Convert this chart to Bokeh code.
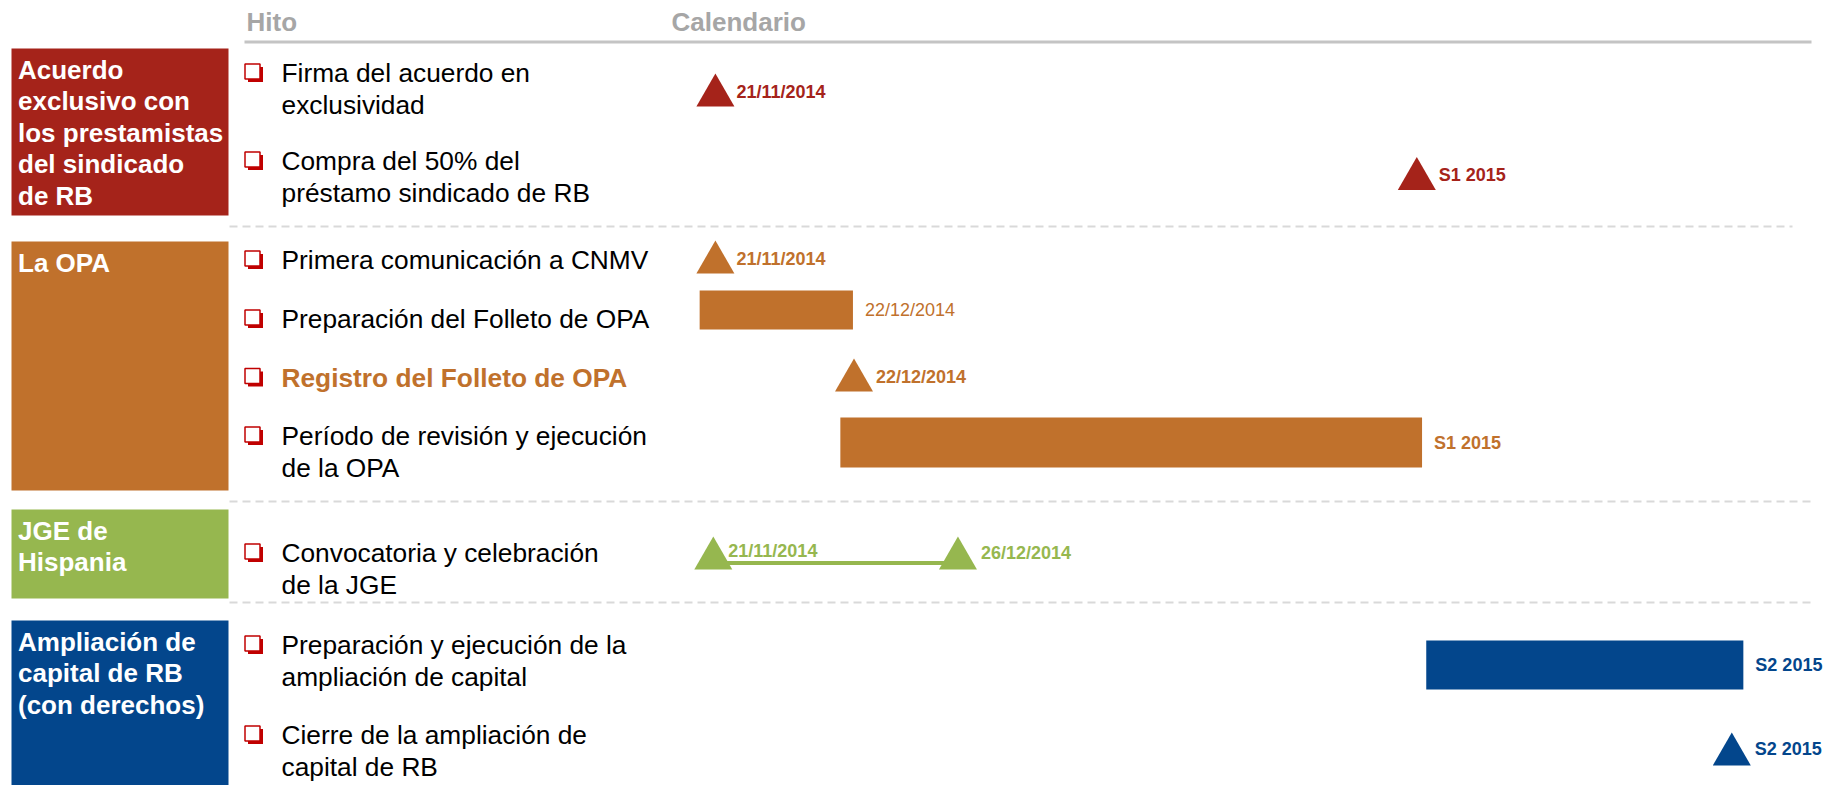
from bokeh.plotting import figure
from bokeh.models import Range1d, ColumnDataSource
from bokeh.embed import file_html
from bokeh.resources import INLINE
from bokeh.core.properties import value

# ---------------- DATA ----------------
header_labels = ["Hito", "Calendario"]

group_names = [
    "Acuerdo\nexclusivo con\nlos prestamistas\ndel sindicado\nde RB",
    "La OPA",
    "JGE de\nHispania",
    "Ampliación de\ncapital de RB\n(con derechos)",
]
group_colors = ["#A5231A", "#C0712C", "#96B74F", "#03468C"]

item_texts = [
    "Firma del acuerdo en\nexclusividad",
    "Compra del 50% del\npréstamo sindicado de RB",
    "Primera comunicación a CNMV",
    "Preparación del Folleto de OPA",
    "Registro del Folleto de OPA",
    "Período de revisión y ejecución\nde la OPA",
    "Convocatoria y celebración\nde la JGE",
    "Preparación y ejecución de la\nampliación de capital",
    "Cierre de la ampliación de\ncapital de RB",
]
item_group = [0, 0, 1, 1, 1, 1, 2, 3, 3]
item_highlight = [0, 0, 0, 0, 1, 0, 0, 0, 0]

# milestones on a schematic calendar scale (0 = start, 100 = end of S2 2015)
milestone_item = [0, 1, 2, 4, 6, 6, 8]
milestone_pos = [1.8, 68.6, 1.8, 15.0, 1.6, 24.9, 98.6]
milestone_label = ["21/11/2014", "S1 2015", "21/11/2014", "22/12/2014",
                   "21/11/2014", "26/12/2014", "S2 2015"]

bar_item = [3, 5, 7]
bar_start = [0.3, 13.7, 69.5]
bar_end = [14.9, 69.1, 99.7]
bar_label = ["22/12/2014", "S1 2015", "S2 2015"]
bar_label_bold = [False, True, True]

link_item = [6]
link_start = [1.6]
link_end = [24.9]

# ---------------- LAYOUT ----------------
FONT = "Liberation Sans"
W, H = 1842, 785
X0, Y0 = 0, 0
CAL_X0, CAL_PX = 696.0, 10.5          # screen px of calendar 0, px per unit
group_top = [48, 241, 509, 620]
group_bottom = [215, 490, 598, 800]
BOX_L, BOX_R = 11, 228
item_text_y = [72.5, 160.5, 259.5, 318.5, 377, 435.5, 552.5, 644.5, 734.5]
item_mark_y = [89.5, 173, 256.5, 309.5, 374.5, 442, 552.5, 664.5, 748.5]
bar_h = {3: 39, 5: 50, 7: 49}
ms_label_dx = [21, 22, 21, 22, 15, 23, 23]
ms_label_dy = [1.5, 1, 1.5, 1.5, -2.5, -0.5, -0.5]
LINE_H = 31.5
TEXT_X = 281
CHECK_X = 252
sep_y = [226, 501, 602]
sep_x1 = [1792, 1815, 1815]
TRI = 38

p = figure(width=W, height=H, output_backend="svg", toolbar_location=None,
           x_range=Range1d(X0, X0 + W), y_range=Range1d(Y0 + H, Y0),
           x_axis_type=None, y_axis_type=None, min_border=0,
           outline_line_color=None, border_fill_color="white",
           background_fill_color="white")
p.extra_x_ranges = {"cal": Range1d((X0 - CAL_X0) / CAL_PX, (X0 + W - CAL_X0) / CAL_PX)}

# header
p.text(x=[246, 671], y=[21, 21], text=header_labels, text_font=value(FONT),
       text_font_size="26px", text_font_style="bold", text_color="#A6A6A6",
       text_baseline="middle", text_align="left")
p.segment(x0=[244], x1=[1811], y0=[41.5], y1=[41.5], line_color="#C4C4C4", line_width=3)

# separators
p.segment(x0=[229] * 3, x1=sep_x1, y0=sep_y, y1=sep_y, line_color="#D9D9D9",
          line_width=2, line_dash="8 5")

# group boxes
p.quad(left=[BOX_L] * 4, right=[BOX_R] * 4, top=group_top, bottom=group_bottom,
       fill_color=group_colors, line_color=None)
gx, gy, gt = [], [], []
for gi, name in enumerate(group_names):
    for li, line in enumerate(name.split("\n")):
        gx.append(17.5)
        gy.append(group_top[gi] + 21 + li * LINE_H)
        gt.append(line)
p.text(x=gx, y=gy, text=gt, text_font=value(FONT), text_font_size="26px",
       text_font_style="bold", text_color="white", text_baseline="middle")

# item texts
for bold in (0, 1):
    tx, ty, tt, tc = [], [], [], []
    for ii, t in enumerate(item_texts):
        if item_highlight[ii] != bold:
            continue
        for li, line in enumerate(t.split("\n")):
            tx.append(TEXT_X)
            ty.append(item_text_y[ii] + li * LINE_H)
            tt.append(line)
            tc.append(group_colors[item_group[ii]] if bold else "#000000")
    p.text(x=tx, y=ty, text=tt, text_color=tc, text_font=value(FONT),
           text_font_size="26.3px", text_font_style="bold" if bold else "normal",
           text_baseline="middle")

# checkboxes
cy = [y - 1.5 for y in item_text_y]
p.rect(x=[CHECK_X + 3] * len(cy), y=[y + 3 for y in cy], width=15, height=15,
       fill_color="#C00000", line_color=None)
p.rect(x=[CHECK_X] * len(cy), y=cy, width=15, height=15,
       fill_color="white", line_color="#C00000", line_width=1.5)

# links (JGE)
p.segment(x0=link_start, x1=link_end,
          y0=[item_mark_y[i] + 10 for i in link_item],
          y1=[item_mark_y[i] + 10 for i in link_item],
          line_color=[group_colors[item_group[i]] for i in link_item],
          line_width=4, x_range_name="cal")

# bars
bsrc = ColumnDataSource(dict(
    y=[item_mark_y[i] for i in bar_item], left=bar_start, right=bar_end,
    h=[bar_h[i] for i in bar_item],
    c=[group_colors[item_group[i]] for i in bar_item]))
p.hbar(y="y", left="left", right="right", height="h", fill_color="c",
       line_color=None, source=bsrc, x_range_name="cal")
for bold in (False, True):
    idx = [k for k in range(len(bar_item)) if bar_label_bold[k] == bold]
    p.text(x=[bar_end[k] for k in idx], y=[item_mark_y[bar_item[k]] for k in idx],
           text=[bar_label[k] for k in idx],
           text_color=[group_colors[item_group[bar_item[k]]] for k in idx],
           x_offset=12, text_font=value(FONT), text_font_size="18px",
           text_font_style="bold" if bold else "normal", text_baseline="middle",
           x_range_name="cal")

# milestones
msrc = ColumnDataSource(dict(
    x=milestone_pos, y=[item_mark_y[i] + TRI * 0.866 / 6 for i in milestone_item],
    ly=[item_mark_y[i] + d for i, d in zip(milestone_item, ms_label_dy)],
    dx=ms_label_dx,
    t=milestone_label, c=[group_colors[item_group[i]] for i in milestone_item]))
p.scatter(x="x", y="y", marker="triangle", size=TRI, fill_color="c",
          line_color=None, source=msrc, x_range_name="cal")
p.text(x="x", y="ly", text="t", text_color="c", x_offset="dx", source=msrc,
       text_font=value(FONT), text_font_size="18px", text_font_style="bold",
       text_baseline="middle", x_range_name="cal")

open("out.html", "w").write(file_html(p, INLINE))
